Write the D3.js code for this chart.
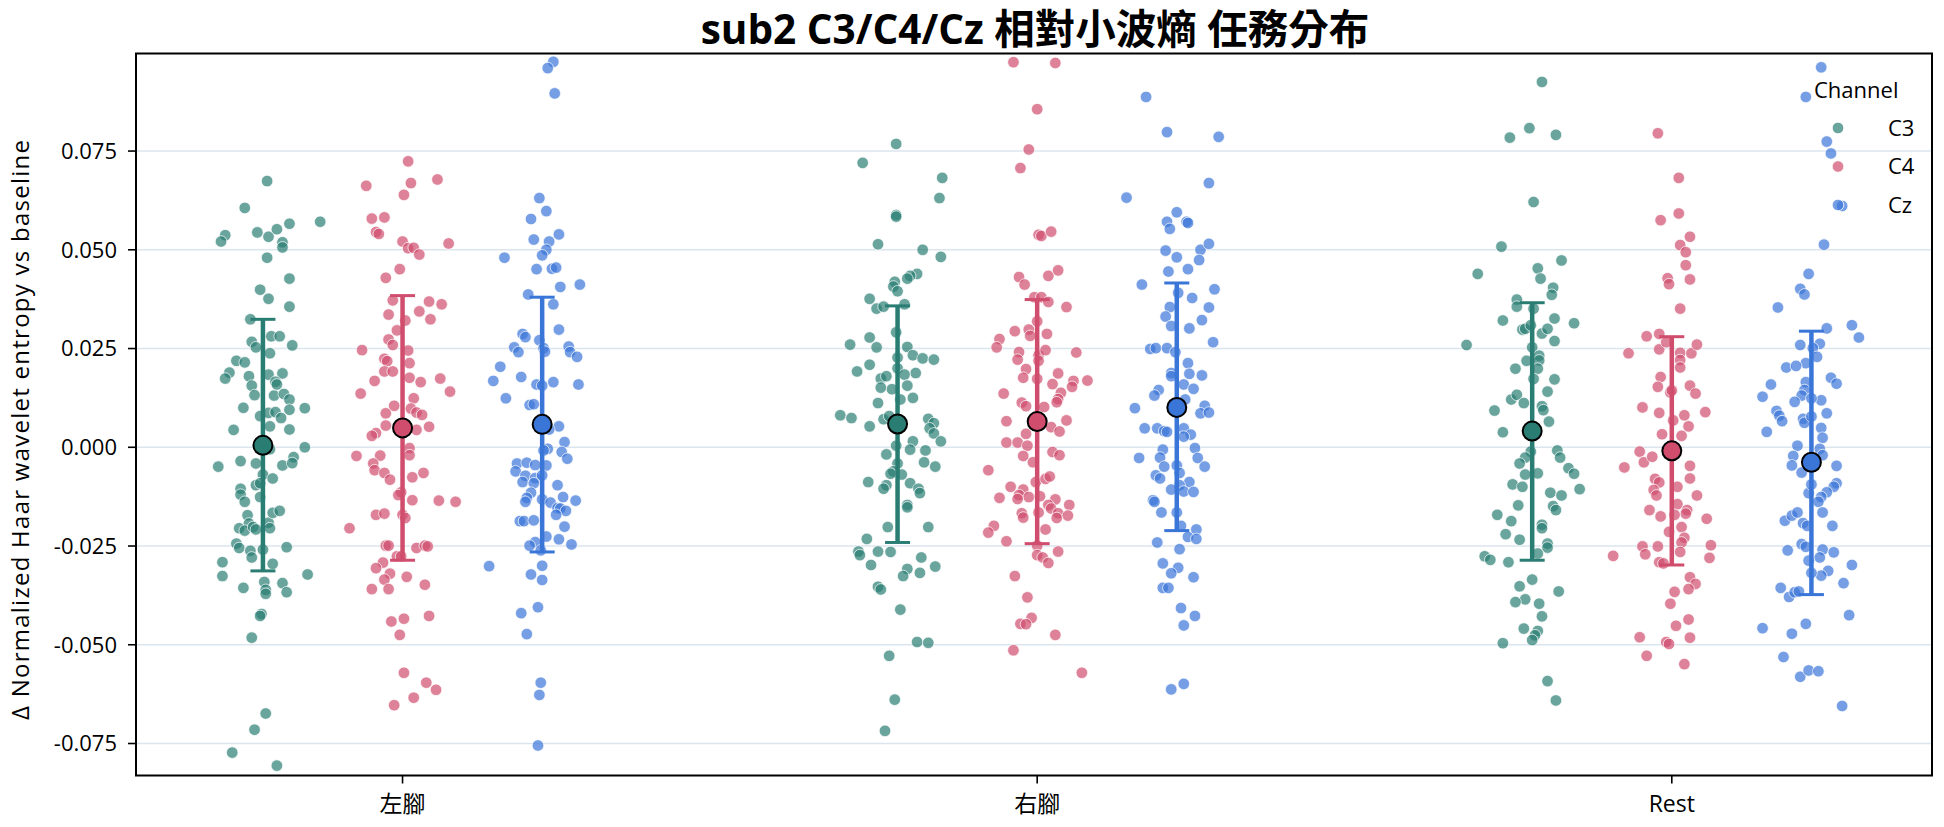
<!DOCTYPE html>
<html><head><meta charset="utf-8">
<script src="https://cdn.jsdelivr.net/npm/d3@7"></script>
<style>body{margin:0;background:#fff}svg{display:block}text{font-family:"Open Sans","Noto Sans CJK TC",sans-serif;fill:#000}</style>
</head><body><svg id="chart" width="1944" height="827"></svg>
<script>
const tasks = ["左腳", "右腳", "Rest"];
const channels = ["C3", "C4", "Cz"];
const yTicks = [-0.075, -0.05, -0.025, 0, 0.025, 0.05, 0.075];
const yTickLabels = ["-0.075", "-0.050", "-0.025", "0.000", "0.025", "0.050", "0.075"];
const titleText = "sub2 C3/C4/Cz 相對小波熵 任務分布";
const yLabel = "Δ Normalized Haar wavelet entropy vs baseline";
const legendTitle = "Channel";

// per-trial values; jitter = horizontal strip jitter in % of dodge spacing
const leftC3 = [0.0674,0.0606,0.0537,0.0521,0.0544,0.0533,0.0552,0.0519,0.0506,0.0566,0.0571,0.0480,0.0427,0.0399,0.0376,0.0356,0.0324,0.0281,0.0281,0.0258,0.0267,0.0253,0.0238,0.0219,0.0215,0.0189,0.0174,0.0180,0.0184,0.0187,0.0156,0.0166,0.0132,0.0131,0.0135,0.0121,0.0159,0.0095,0.0100,0.0079,0.0087,0.0089,0.0074,0.0099,0.0044,0.0053,0.0045,0.0000,-0.0049,-0.0035,-0.0041,-0.0005,-0.0046,-0.0025,-0.0040,-0.0069,-0.0079,-0.0096,-0.0091,-0.0105,-0.0120,-0.0138,-0.0126,-0.0172,-0.0193,-0.0205,-0.0211,-0.0202,-0.0208,-0.0191,-0.0205,-0.0166,-0.0161,-0.0244,-0.0255,-0.0262,-0.0259,-0.0253,-0.0279,-0.0291,-0.0326,-0.0295,-0.0322,-0.0356,-0.0341,-0.0361,-0.0371,-0.0344,-0.0367,-0.0422,-0.0427,-0.0482,-0.0674,-0.0715,-0.0773,-0.0806];
const leftC3Jit = [3,-13,-27,-30,-4,4,10,14,14,19,41,3,19,-2,4,19,-9,6,12,21,-8,-5,5,-19,-13,-24,-27,-10,4,14,-8,9,-6,8,15,19,10,19,-14,-2,4,9,13,30,-21,5,19,30,-32,-16,-5,5,14,22,21,0,7,-5,-2,-16,-16,-13,-2,-11,-10,-17,-13,-7,-5,4,5,7,12,-19,-17,-9,0,17,-8,-29,-29,7,32,-14,1,2,2,14,17,-1,-2,-8,2,-6,-22,10];
const leftC4 = [0.0724,0.0662,0.0669,0.0639,0.0678,0.0579,0.0582,0.0545,0.0540,0.0521,0.0504,0.0505,0.0488,0.0516,0.0451,0.0429,0.0372,0.0336,0.0369,0.0344,0.0324,0.0362,0.0321,0.0296,0.0273,0.0259,0.0246,0.0245,0.0224,0.0218,0.0213,0.0192,0.0192,0.0176,0.0168,0.0165,0.0174,0.0141,0.0136,0.0124,0.0105,0.0086,0.0098,0.0088,0.0082,0.0055,0.0036,0.0029,0.0052,0.0044,-0.0002,-0.0020,-0.0022,-0.0021,-0.0041,-0.0058,-0.0065,-0.0082,-0.0076,-0.0065,-0.0114,-0.0121,-0.0134,-0.0135,-0.0138,-0.0171,-0.0168,-0.0171,-0.0179,-0.0205,-0.0249,-0.0249,-0.0276,-0.0276,-0.0255,-0.0249,-0.0251,-0.0292,-0.0306,-0.0320,-0.0335,-0.0328,-0.0348,-0.0359,-0.0359,-0.0441,-0.0434,-0.0475,-0.0427,-0.0571,-0.0596,-0.0614,-0.0634,-0.0653];
const leftC4Jit = [4,-26,6,1,25,-22,-13,-19,-17,0,4,8,12,33,-2,-12,-7,-10,19,12,20,28,2,-4,-10,-7,-29,4,-13,-11,5,-13,-7,5,-20,13,27,34,-30,8,-6,-12,6,10,14,-12,-19,-22,19,10,5,5,-33,-16,-21,-20,-13,-9,7,15,-1,-3,7,26,38,-19,-13,0,2,-38,-12,-10,-4,-1,10,16,18,-14,-19,-9,-13,3,16,-22,-10,-8,1,-2,19,1,17,24,8,-6];
const leftCz = [0.0976,0.0960,0.0896,0.0631,0.0598,0.0578,0.0539,0.0526,0.0521,0.0500,0.0486,0.0480,0.0451,0.0452,0.0455,0.0406,0.0412,0.0387,0.0362,0.0298,0.0287,0.0279,0.0271,0.0253,0.0241,0.0251,0.0242,0.0255,0.0241,0.0229,0.0204,0.0168,0.0178,0.0165,0.0159,0.0159,0.0156,0.0124,0.0107,0.0109,0.0053,0.0045,0.0013,-0.0004,-0.0008,-0.0012,-0.0029,-0.0041,-0.0061,-0.0039,-0.0045,-0.0046,-0.0072,-0.0078,-0.0071,-0.0088,-0.0091,-0.0096,-0.0115,-0.0128,-0.0138,-0.0132,-0.0140,-0.0154,-0.0126,-0.0135,-0.0155,-0.0161,-0.0171,-0.0187,-0.0187,-0.0185,-0.0201,-0.0226,-0.0233,-0.0240,-0.0249,-0.0246,-0.0261,-0.0301,-0.0300,-0.0322,-0.0336,-0.0405,-0.0420,-0.0473,-0.0596,-0.0627,-0.0755];
const leftCzJit = [8,4,9,-2,3,-8,12,-6,5,3,0,-27,-4,7,10,13,27,-10,8,12,-14,-12,-2,-20,-17,1,2,19,20,25,-30,-35,-15,8,26,-4,0,-26,-9,-6,12,5,16,4,1,14,18,-18,-19,-11,-5,3,-12,-5,0,-14,-6,11,-8,-11,-12,0,6,11,15,24,13,17,10,-16,-13,-6,16,3,12,-5,-9,21,-1,-38,0,-8,0,-3,-15,-11,-1,-2,-3];
const rightC3 = [0.0768,0.0720,0.0682,0.0631,0.0588,0.0584,0.0514,0.0500,0.0482,0.0439,0.0434,0.0427,0.0419,0.0407,0.0395,0.0376,0.0351,0.0356,0.0362,0.0291,0.0278,0.0260,0.0253,0.0254,0.0233,0.0227,0.0225,0.0222,0.0209,0.0200,0.0192,0.0188,0.0174,0.0180,0.0184,0.0147,0.0151,0.0156,0.0121,0.0125,0.0112,0.0081,0.0074,0.0071,0.0053,0.0079,0.0072,0.0061,0.0048,0.0035,0.0015,0.0015,0.0004,-0.0006,-0.0008,-0.0018,-0.0038,-0.0049,-0.0041,-0.0061,-0.0067,-0.0069,-0.0088,-0.0091,-0.0096,-0.0105,-0.0105,-0.0116,-0.0146,-0.0152,-0.0202,-0.0202,-0.0232,-0.0264,-0.0273,-0.0264,-0.0265,-0.0298,-0.0279,-0.0302,-0.0308,-0.0326,-0.0318,-0.0353,-0.0360,-0.0411,-0.0493,-0.0495,-0.0528,-0.0639,-0.0718];
const rightC3Jit = [-1,-25,32,30,-1,-1,-14,18,31,14,9,7,-2,-3,0,-20,-15,-10,5,-1,-20,-34,-15,7,11,0,18,26,-20,0,-29,13,-12,-8,5,-4,-12,7,2,11,-14,-41,-33,-10,-20,-6,22,26,23,26,31,11,-1,9,20,-8,19,27,0,-3,-5,3,-21,9,-8,-10,15,16,7,7,-7,22,-22,-28,-27,-14,-5,-19,17,27,7,4,16,-14,-12,2,14,22,-6,-2,-9];
const rightC4 = [0.0975,0.0973,0.0856,0.0754,0.0707,0.0538,0.0535,0.0546,0.0431,0.0412,0.0434,0.0448,0.0380,0.0380,0.0368,0.0355,0.0294,0.0298,0.0319,0.0287,0.0274,0.0253,0.0241,0.0222,0.0282,0.0233,0.0246,0.0219,0.0240,0.0198,0.0176,0.0173,0.0187,0.0160,0.0138,0.0122,0.0114,0.0168,0.0153,0.0169,0.0136,0.0113,0.0104,0.0102,0.0066,0.0051,0.0040,0.0068,0.0034,0.0012,0.0012,0.0004,-0.0022,-0.0038,-0.0012,-0.0020,-0.0058,-0.0088,-0.0080,-0.0074,-0.0100,-0.0107,-0.0121,-0.0126,-0.0124,-0.0128,-0.0131,-0.0132,-0.0146,-0.0155,-0.0146,-0.0165,-0.0167,-0.0178,-0.0167,-0.0179,-0.0173,-0.0208,-0.0199,-0.0216,-0.0238,-0.0249,-0.0273,-0.0279,-0.0293,-0.0264,-0.0326,-0.0380,-0.0432,-0.0447,-0.0448,-0.0475,-0.0514,-0.0571];
const rightC4Jit = [-17,13,0,-6,-12,1,3,10,-13,-9,8,15,-2,3,8,21,-16,-6,0,7,-27,-29,-13,-14,-5,1,6,1,28,-8,-10,0,15,11,17,15,14,26,25,36,-24,-11,-8,5,-22,10,16,21,-8,-22,-14,-7,-10,-3,11,16,-35,-1,6,9,-19,-10,-13,-6,2,-27,-14,13,8,10,23,1,-11,-10,15,14,22,6,-31,-35,-22,0,0,4,8,15,-16,-7,-4,-12,-8,13,-17,32];
const rightCz = [0.0887,0.0798,0.0786,0.0669,0.0632,0.0595,0.0571,0.0553,0.0571,0.0568,0.0498,0.0481,0.0500,0.0515,0.0474,0.0445,0.0451,0.0412,0.0391,0.0378,0.0400,0.0355,0.0354,0.0331,0.0322,0.0307,0.0301,0.0266,0.0249,0.0251,0.0251,0.0241,0.0213,0.0188,0.0186,0.0182,0.0180,0.0159,0.0148,0.0145,0.0131,0.0121,0.0099,0.0105,0.0086,0.0088,0.0048,0.0048,0.0041,0.0039,0.0048,0.0032,0.0027,-0.0002,-0.0006,-0.0026,-0.0027,-0.0027,-0.0049,-0.0049,-0.0046,-0.0065,-0.0071,-0.0079,-0.0088,-0.0096,-0.0107,-0.0112,-0.0113,-0.0134,-0.0138,-0.0165,-0.0165,-0.0199,-0.0208,-0.0227,-0.0232,-0.0241,-0.0258,-0.0294,-0.0305,-0.0319,-0.0329,-0.0356,-0.0356,-0.0407,-0.0427,-0.0451,-0.0613,-0.0599];
const rightCzJit = [-22,-7,30,23,-36,0,-7,-5,7,8,-8,0,17,23,16,-6,8,-25,1,11,27,-5,23,-8,18,-4,9,26,-19,-15,-7,-1,8,-4,9,18,-4,5,12,-13,-16,6,-30,20,17,23,-23,-14,-9,-7,5,10,5,13,-10,-12,-27,15,20,-9,0,2,-15,-12,9,2,-4,5,12,-17,-16,-11,0,3,14,8,14,-14,2,-10,1,-4,12,-10,-6,3,13,5,-4,5];
const restC3 = [0.0925,0.0808,0.0784,0.0791,0.0621,0.0508,0.0439,0.0453,0.0427,0.0473,0.0404,0.0386,0.0374,0.0356,0.0351,0.0321,0.0298,0.0300,0.0309,0.0288,0.0300,0.0326,0.0314,0.0269,0.0259,0.0253,0.0232,0.0220,0.0219,0.0199,0.0199,0.0173,0.0172,0.0141,0.0121,0.0133,0.0112,0.0104,0.0094,0.0093,0.0065,0.0038,-0.0008,-0.0026,-0.0011,-0.0026,-0.0041,-0.0066,-0.0053,-0.0067,-0.0106,-0.0069,-0.0094,-0.0100,-0.0115,-0.0122,-0.0149,-0.0159,-0.0147,-0.0171,-0.0187,-0.0196,-0.0205,-0.0220,-0.0234,-0.0244,-0.0254,-0.0276,-0.0285,-0.0291,-0.0269,-0.0335,-0.0352,-0.0385,-0.0392,-0.0396,-0.0365,-0.0428,-0.0459,-0.0465,-0.0476,-0.0488,-0.0496,-0.0592,-0.0641];
const restC3Jit = [7,-2,-16,17,1,-22,-39,4,6,21,15,14,-11,-11,1,-21,-7,-5,-1,7,11,16,30,16,-47,0,5,5,-4,-12,4,1,16,11,-15,-11,-6,7,8,-27,12,-21,18,20,-1,-5,-9,4,26,30,34,-5,-14,-7,13,21,15,17,-10,-25,-15,7,7,-19,-9,11,11,-34,-30,-17,4,0,-9,-5,-12,5,19,7,-6,4,2,0,-21,11,17];
const restC4 = [0.0795,0.0682,0.0575,0.0592,0.0533,0.0512,0.0494,0.0461,0.0425,0.0428,0.0413,0.0351,0.0281,0.0287,0.0238,0.0248,0.0266,0.0239,0.0221,0.0202,0.0238,0.0260,0.0178,0.0153,0.0139,0.0156,0.0136,0.0144,0.0101,0.0087,0.0068,0.0081,0.0053,0.0089,0.0033,0.0029,-0.0011,-0.0038,-0.0024,-0.0051,-0.0047,-0.0079,-0.0080,-0.0089,-0.0108,-0.0122,-0.0100,-0.0122,-0.0159,-0.0175,-0.0144,-0.0159,-0.0168,-0.0171,-0.0181,-0.0214,-0.0202,-0.0229,-0.0241,-0.0251,-0.0251,-0.0265,-0.0248,-0.0280,-0.0271,-0.0275,-0.0291,-0.0294,-0.0329,-0.0346,-0.0359,-0.0366,-0.0396,-0.0452,-0.0436,-0.0482,-0.0481,-0.0493,-0.0498,-0.0528,-0.0549];
const restC4Jit = [-10,5,-8,5,13,6,10,10,13,-3,-2,6,-18,-9,-31,-9,-4,6,6,6,14,18,-8,-10,-1,13,17,0,-21,-9,1,9,12,24,-7,7,-23,-20,-14,-34,13,13,-12,-9,-13,-11,4,18,-16,-8,4,11,10,2,25,-2,7,9,7,-21,-10,6,28,27,-19,-42,-9,-6,13,17,12,2,-1,3,12,13,-23,-4,-2,-18,9];
const restCz = [0.0962,0.0887,0.0774,0.0744,0.0611,0.0513,0.0439,0.0401,0.0387,0.0354,0.0301,0.0309,0.0278,0.0259,0.0262,0.0251,0.0229,0.0213,0.0202,0.0206,0.0159,0.0128,0.0165,0.0145,0.0131,0.0115,0.0119,0.0176,0.0161,0.0124,0.0092,0.0080,0.0066,0.0072,0.0062,0.0078,0.0086,0.0049,0.0039,0.0024,0.0004,-0.0004,-0.0022,-0.0046,-0.0064,-0.0020,-0.0047,-0.0091,-0.0100,-0.0114,-0.0126,-0.0116,-0.0094,-0.0138,-0.0165,-0.0199,-0.0186,-0.0173,-0.0165,-0.0192,-0.0199,-0.0261,-0.0245,-0.0252,-0.0259,-0.0266,-0.0279,-0.0287,-0.0313,-0.0298,-0.0325,-0.0344,-0.0318,-0.0356,-0.0379,-0.0367,-0.0365,-0.0425,-0.0458,-0.0472,-0.0447,-0.0531,-0.0581,-0.0565,-0.0567,-0.0655];
const restCzJit = [7,-4,11,14,22,9,-2,-8,-5,-24,11,29,34,-8,6,1,4,-4,-18,-11,-29,-35,-4,-5,-7,-12,7,14,18,0,-25,-23,-21,-6,-5,0,11,7,-32,8,-10,6,-13,-14,-7,8,18,18,16,11,7,-2,0,5,8,15,-19,-14,-10,-6,-3,-17,-7,-4,8,16,6,-2,12,29,7,23,0,-22,-16,-12,-9,27,-35,-14,-4,-20,-8,-2,5,22];

// mean and error-bar ends per channel, in task order
const meanC3 = [0.0005, 0.0059, 0.0041];
const lowC3 = [-0.0313, -0.0241, -0.0286];
const highC3 = [0.0324, 0.0358, 0.0366];
const meanC4 = [0.0049, 0.0065, -0.0009];
const lowC4 = [-0.0286, -0.0244, -0.0298];
const highC4 = [0.0384, 0.0374, 0.0280];
const meanCz = [0.0058, 0.0101, -0.0038];
const lowCz = [-0.0265, -0.0211, -0.0373];
const highCz = [0.0380, 0.0416, 0.0294];

// ---- build tables ----
const ptsTable = [
  ["左腳","C3",leftC3,leftC3Jit],["左腳","C4",leftC4,leftC4Jit],["左腳","Cz",leftCz,leftCzJit],
  ["右腳","C3",rightC3,rightC3Jit],["右腳","C4",rightC4,rightC4Jit],["右腳","Cz",rightCz,rightCzJit],
  ["Rest","C3",restC3,restC3Jit],["Rest","C4",restC4,restC4Jit],["Rest","Cz",restCz,restCzJit]
];
const summary = {C3:[meanC3,lowC3,highC3], C4:[meanC4,lowC4,highC4], Cz:[meanCz,lowCz,highCz]};

const baseColor = {C3:"#2a7d73", C4:"#d04d6e", Cz:"#3a75d8"};

const m = {left:136, right:1932, top:53.5, bottom:775.5};
const svg = d3.select("#chart");

const x = d3.scaleLinear().domain([-0.42, 2.41]).range([m.left, m.right]);
const dodge = d3.scalePoint().domain(channels).range([-0.22, 0.22]);
const taskIdx = d3.scaleOrdinal().domain(tasks).range([0,1,2]);
const y = d3.scaleLinear().domain([-0.0831, 0.0997]).range([m.bottom, m.top]);

// grid
svg.append("g").selectAll("line").data(yTicks).join("line")
  .attr("x1", m.left).attr("x2", m.right)
  .attr("y1", d => y(d)).attr("y2", d => y(d))
  .attr("stroke", "#dbe5ee").attr("stroke-width", 1.6);

// points
const pts = [];
ptsTable.forEach(([t, c, vals, jit]) => {
  vals.forEach((v, i) => pts.push({t, c, v, j: jit[i]}));
});
const plotG = svg.append("g");
channels.forEach(c => {
  plotG.append("g").selectAll("circle").data(pts.filter(p => p.c === c)).join("circle")
    .attr("cx", p => x(taskIdx(p.t) + dodge(p.c) + p.j / 100 * 0.22))
    .attr("cy", p => y(p.v))
    .attr("r", 5.8)
    .attr("fill", baseColor[c]).attr("fill-opacity", 0.7)
    .attr("stroke", "#fff").attr("stroke-width", 0.8).attr("stroke-opacity", 0.9);
});

// error bars + means
channels.forEach(c => {
  const [mean, lo, hi] = summary[c];
  const g = svg.append("g");
  tasks.forEach((t, i) => {
    const cx = x(taskIdx(t) + dodge(c));
    g.append("line").attr("x1", cx).attr("x2", cx).attr("y1", y(lo[i])).attr("y2", y(hi[i]))
      .attr("stroke", baseColor[c]).attr("stroke-width", 4.5);
    [lo[i], hi[i]].forEach(v => g.append("line").attr("x1", cx - 12.5).attr("x2", cx + 12.5)
      .attr("y1", y(v)).attr("y2", y(v)).attr("stroke", baseColor[c]).attr("stroke-width", 3));
    g.append("circle").attr("cx", cx).attr("cy", y(mean[i])).attr("r", 9.5)
      .attr("fill", baseColor[c]).attr("stroke", "#000").attr("stroke-width", 2);
  });
});

// frame
svg.append("rect").attr("x", m.left).attr("y", m.top).attr("width", m.right - m.left).attr("height", m.bottom - m.top)
  .attr("fill", "none").attr("stroke", "#000").attr("stroke-width", 2);

// y axis
const yAxis = svg.append("g");
yAxis.selectAll("line").data(yTicks).join("line")
  .attr("x1", m.left - 8).attr("x2", m.left).attr("y1", d => y(d)).attr("y2", d => y(d))
  .attr("stroke", "#000").attr("stroke-width", 1.6);
yAxis.selectAll("text").data(yTicks).join("text")
  .attr("x", m.left - 19).attr("y", d => y(d)).attr("dy", "0.36em")
  .attr("text-anchor", "end").attr("font-size", 22)
  .text((d, i) => yTickLabels[i]);

// x axis
const xAxis = svg.append("g");
xAxis.selectAll("line").data(tasks).join("line")
  .attr("x1", d => x(taskIdx(d))).attr("x2", d => x(taskIdx(d)))
  .attr("y1", m.bottom).attr("y2", m.bottom + 8)
  .attr("stroke", "#000").attr("stroke-width", 1.6);
xAxis.selectAll("text").data(tasks).join("text")
  .attr("x", d => x(taskIdx(d))).attr("y", 804).attr("dy", "0.36em")
  .attr("text-anchor", "middle").attr("font-size", 23).text(d => d);

// y label
svg.append("text").attr("transform", `translate(20,430) rotate(-90)`)
  .attr("text-anchor", "middle").attr("dy", "0.36em").attr("font-size", 24)
  .attr("textLength", 580).attr("lengthAdjust", "spacing").text(yLabel);

// title
svg.append("text").attr("x", 1035).attr("y", 29).attr("dy", "0.36em")
  .attr("text-anchor", "middle").attr("font-size", 40.5).attr("font-weight", "bold").text(titleText);

// legend
const lg = svg.append("g");
lg.append("text").attr("x", 1814).attr("y", 90).attr("dy", "0.36em").attr("font-size", 22).text(legendTitle);
channels.forEach((c, i) => {
  const yy = 128 + i * 38.5;
  lg.append("circle").attr("cx", 1838).attr("cy", yy).attr("r", 5.8)
    .attr("fill", baseColor[c]).attr("fill-opacity", 0.7).attr("stroke", "#fff").attr("stroke-width", 0.8);
  lg.append("text").attr("x", 1888).attr("y", yy).attr("dy", "0.36em").attr("font-size", 22).text(c);
});
</script></body></html>
